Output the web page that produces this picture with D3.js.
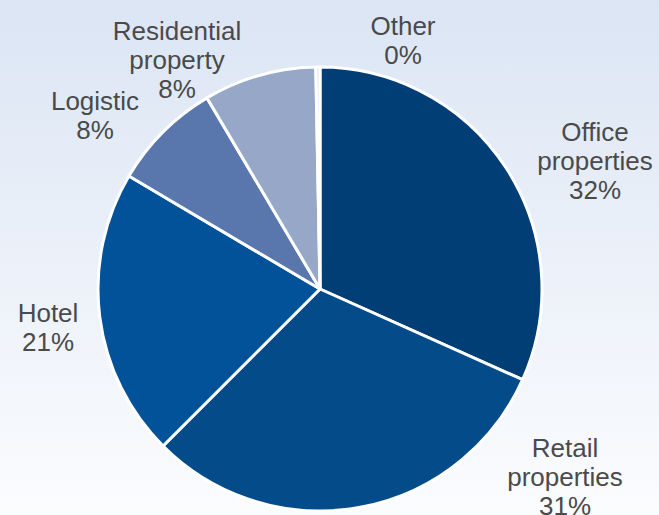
<!DOCTYPE html>
<html><head><meta charset="utf-8">
<script src="https://cdn.jsdelivr.net/npm/d3@7"></script>
<style>html,body{margin:0;padding:0;overflow:hidden}</style>
</head><body>
<svg id="c" width="659" height="515"></svg>
<script>
const categories = ["Office properties","Retail properties","Hotel","Logistic","Residential property","Other"];
const values = [31.7, 30.8, 21.0, 8.0, 8.2, 0.3];
const pctLabels = ["32%","31%","21%","8%","8%","0%"];
const labelLines = [["Office","properties"],["Retail","properties"],["Hotel"],["Logistic"],["Residential","property"],["Other"]];
const colors = ["#003e75","#034b89","#02529a","#5977ad","#96a7c8","#dfe5f0"];

const svg = d3.select("#c");
const defs = svg.append("defs");
const g = defs.append("linearGradient").attr("id","bg").attr("x1",0).attr("y1",0).attr("x2",0).attr("y2",1);
g.append("stop").attr("offset","0%").attr("stop-color","#dbe5f4");
g.append("stop").attr("offset","100%").attr("stop-color","#fbfcfe");
svg.append("rect").attr("width",659).attr("height",515).attr("fill","url(#bg)");

const cx = 320, cy = 289, r = 222;
const pie = d3.pie().sort(null).value(d=>d)(values);
const arc = d3.arc().innerRadius(0).outerRadius(r);
const root = svg.append("g").attr("transform",`translate(${cx},${cy})`);
root.selectAll("path").data(pie).join("path")
  .attr("d",arc).attr("fill",(d,i)=>colors[i])
  .attr("stroke","#ffffff").attr("stroke-width",3).attr("stroke-linejoin","round");

// label anchor positions (center x, first baseline y)
const labelPos = [[595,141],[565,457],[48,322],[95,110],[177,40],[403,35]];
const lh = 29;
categories.forEach((c,i)=>{
  const lines = labelLines[i].concat([pctLabels[i]]);
  const t = svg.append("text").attr("text-anchor","middle")
    .attr("font-family","Liberation Sans, Arial, sans-serif").attr("font-size",26)
    .attr("fill","#4a4a4a");
  lines.forEach((l,j)=>{
    t.append("tspan").attr("x",labelPos[i][0]).attr("y",labelPos[i][1]+j*lh).text(l);
  });
});
</script>
</body></html>
